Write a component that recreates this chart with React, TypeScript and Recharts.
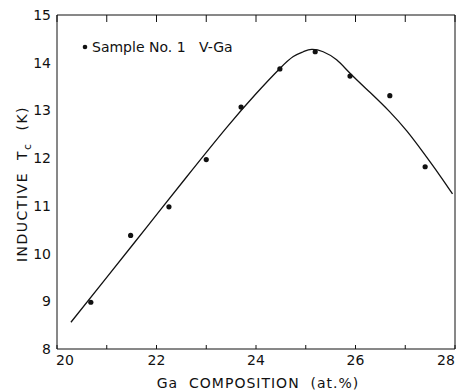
import React from "react";
import {
  ComposedChart,
  Line,
  Scatter,
  XAxis,
  YAxis,
} from "recharts";

// measured Tc values, sample No. 1 V-Ga
const sampleGa = [20.68, 21.48, 22.25, 23.0, 23.7, 24.48, 25.19, 25.89, 26.69, 27.4];
const sampleTc = [8.98, 10.38, 10.98, 11.97, 13.07, 13.87, 14.23, 13.72, 13.31, 11.82];

// hand-drawn fit curve
const curveGa = [20.28, 21.0, 21.8, 22.6, 23.4, 24.0, 24.48, 24.75, 24.95, 25.12, 25.35, 25.62, 25.89, 26.29, 26.69, 27.03, 27.36, 27.7, 27.95];
const curveTc = [8.56, 9.5, 10.55, 11.6, 12.63, 13.35, 13.88, 14.13, 14.23, 14.28, 14.23, 14.06, 13.78, 13.38, 12.97, 12.57, 12.12, 11.63, 11.25];

const xTicks = [20, 21, 22, 23, 24, 25, 26, 27, 28];
const yTicks = [8, 9, 10, 11, 12, 13, 14, 15];

const samples = sampleGa.map((x, i) => ({ x, y: sampleTc[i] }));
const curve = curveGa.map((x, i) => ({ x, y: curveTc[i] }));

const FONT = "'DejaVu Sans', sans-serif";
const INK = "#111";

const BottomTick = (props: any) => {
  const { x, y, payload } = props;
  const v = payload.value;
  if (v % 2 !== 0) return <g />;
  const dx = v === 20 ? 8 : v === 28 ? -9 : 0;
  return (
    <text x={x + dx} y={y} dy="0.71em" textAnchor="middle" fontSize={14} fontFamily={FONT} fill={INK}>
      {v}
    </text>
  );
};

const NoTick = () => <g />;

const Dot = (props: any) => <circle cx={props.cx} cy={props.cy} r={2.6} fill={INK} />;

export default function App() {
  return (
    <div style={{ position: "absolute", left: 0, top: 0, width: 456, height: 391, background: "#fff" }}>
      <ComposedChart
        width={456}
        height={391}
        data={samples}
        margin={{ top: 14, right: 0, bottom: 0, left: 0 }}
      >
        <XAxis
          dataKey="x"
          type="number"
          domain={[20, 28]}
          ticks={xTicks}
          interval={0}
          height={42}
          tickSize={-4}
          tickMargin={10}
          tick={<BottomTick />}
          stroke={INK}
        />
        <XAxis
          xAxisId="top"
          orientation="top"
          dataKey="x"
          type="number"
          domain={[20, 28]}
          ticks={xTicks}
          interval={0}
          height={1}
          tickSize={-7}
          tick={<NoTick />}
          stroke={INK}
        />
        <YAxis
          type="number"
          domain={[8, 15]}
          ticks={yTicks}
          interval={0}
          width={57}
          tickSize={0}
          tickMargin={6}
          tick={{ fontSize: 14, fontFamily: FONT, fill: INK }}
          stroke={INK}
        />
        <YAxis
          yAxisId="right"
          orientation="right"
          type="number"
          domain={[8, 15]}
          ticks={yTicks}
          interval={0}
          width={1}
          tickSize={-4}
          tick={<NoTick />}
          stroke={INK}
        />
        <Line
          data={curve}
          dataKey="y"
          type="natural"
          stroke={INK}
          strokeWidth={1.3}
          dot={false}
          isAnimationActive={false}
        />
        <Scatter dataKey="y" shape={<Dot />} isAnimationActive={false} />
      </ComposedChart>

      <svg
        width={456}
        height={391}
        style={{ position: "absolute", left: 0, top: 0, pointerEvents: "none" }}
      >
        <circle cx={85} cy={47} r={2.3} fill={INK} />
        <text x={92} y={52} fontSize={14} fontFamily={FONT} fill={INK}>
          Sample No. 1{"\u00a0\u00a0\u00a0"}V-Ga
        </text>
        <text x={258} y={388} textAnchor="middle" fontSize={14} fontFamily={FONT} fill={INK} letterSpacing={1}>
          Ga{"\u00a0\u00a0"}COMPOSITION{"\u00a0\u00a0"}(at.%)
        </text>
        <text
          transform="translate(27,184) rotate(-90)"
          textAnchor="middle"
          fontSize={14}
          fontFamily={FONT}
          fill={INK}
          letterSpacing={1.5}
        >
          INDUCTIVE{"\u00a0\u00a0"}T<tspan fontSize={11} dy={4}>c</tspan>
          <tspan dy={-4}>{"\u00a0\u00a0"}(K)</tspan>
        </text>
      </svg>
    </div>
  );
}
